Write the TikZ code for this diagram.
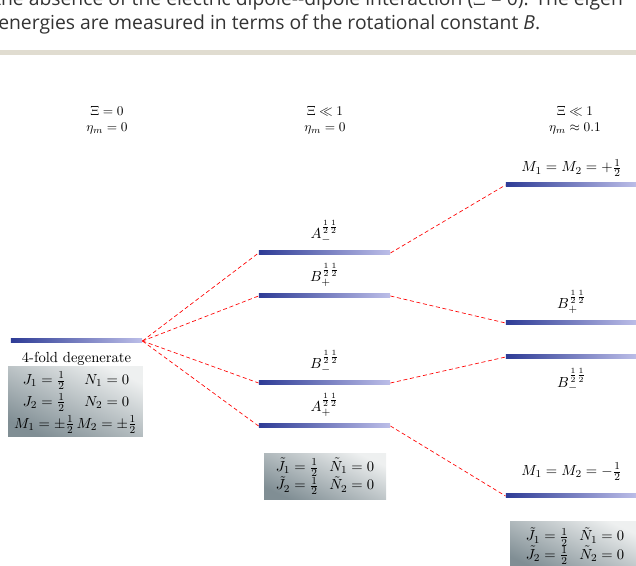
\documentclass[tikz,border=0pt,11pt]{standalone}
\usepackage{amssymb}
\usepackage{amsmath}
\usepackage{fontspec}
\newfontfamily\titelfont{Open Sans}
\usepackage{tikz}

\definecolor{balkendunkel}{RGB}{46,60,150}
\definecolor{balkenhell}{RGB}{188,190,232}
\definecolor{kastenhell}{RGB}{238,240,240}
\definecolor{kastendunkel}{RGB}{128,142,148}
\definecolor{leiste}{RGB}{224,220,208}
\definecolor{schrift}{RGB}{51,51,51}

\begin{document}
\begin{tikzpicture}[
        x=0.75pt, y=-0.75pt,
        niveau/.style={rectangle, inner sep=0pt, minimum width=98.5pt, minimum height=3pt,
                       left color=balkendunkel, right color=balkenhell},
        kasten/.style={rectangle, inner sep=0pt, top color=kastenhell,
                       bottom color=kastendunkel, shading angle=-25, align=center},
        kopf/.style={font=\small, align=center},
        titel/.style={anchor=base west, text=schrift, inner sep=0pt,
                      font=\titelfont\fontsize{14.5}{18}\selectfont},
        kante/.style={draw=red, densely dashed, line width=0.5pt}
    ]
        \clip (0,0) rectangle (636,566);

        % Ausschnitt der Bildunterschrift
        \node[titel] (t1) at (-6, 6) {the absence of the electric dipole--dipole interaction ($\Xi$ = 0). The eigen};
        \node[titel] (t2) at (-2,30) {energies are measured in terms of the rotational constant \textit{B}.};
        \fill[leiste] (0,50) rectangle (636,55);

        % Spaltenkoepfe
        \node[kopf] (kl) at (107,120) {$\Xi = 0$\\$\eta_m = 0$};
        \node[kopf] (km) at (325,120) {$\Xi \ll 1$\\$\eta_m = 0$};
        \node[kopf] (kr) at (575,120) {$\Xi \ll 1$\\$\eta_m \approx 0.1$};

        % Niveaus
        \node[niveau] (l0) at (76.5,341) {};
        \node[niveau] (mA) at (324.5,253) {};
        \node[niveau] (mB) at (324.5,296) {};
        \node[niveau] (mC) at (324.5,383) {};
        \node[niveau] (mD) at (324.5,426) {};
        \node[niveau] (rA) at (571.5,185) {};
        \node[niveau] (rB) at (571.5,323) {};
        \node[niveau] (rC) at (571.5,357) {};
        \node[niveau] (rD) at (571.5,496) {};

        % Beschriftungen
        \node[anchor=north] (l0t) at ([yshift=-3pt]l0.south) {4-fold degenerate};
        \node[anchor=south] (mAt) at ([yshift=1.5pt]mA.north) {$A_{-}^{\frac{1}{2}\frac{1}{2}}$};
        \node[anchor=south] (mBt) at ([yshift=1.5pt]mB.north) {$B_{+}^{\frac{1}{2}\frac{1}{2}}$};
        \node[anchor=south] (mCt) at ([yshift=1.5pt]mC.north) {$B_{-}^{\frac{1}{2}\frac{1}{2}}$};
        \node[anchor=south] (mDt) at ([yshift=1.5pt]mD.north) {$A_{+}^{\frac{1}{2}\frac{1}{2}}$};
        \node[anchor=south] (rAt) at ([yshift=0.5pt]rA.north) {$M_1 = M_2 = +\frac{1}{2}$};
        \node[anchor=south] (rBt) at ([yshift=1.5pt]rB.north) {$B_{+}^{\frac{1}{2}\frac{1}{2}}$};
        \node[anchor=north] (rCt) at ([yshift=-3pt]rC.south) {$B_{-}^{\frac{1}{2}\frac{1}{2}}$};
        \node[anchor=south] (rDt) at ([yshift=6pt]rD.north) {$M_1 = M_2 = -\frac{1}{2}$};

        % Quantenzahlen
        \node[kasten, minimum width=101pt, minimum height=52.5pt] (kl0) at (75.5,402)
            {\renewcommand{\arraystretch}{1.2}$\begin{array}{@{}c@{\,}c@{}}
              J_1 = \frac{1}{2} & N_1 = 0\\
              J_2 = \frac{1}{2} & N_2 = 0\\
              M_1 = \pm\frac{1}{2} & M_2 = \pm\frac{1}{2}
              \end{array}$};
        \node[kasten, minimum width=91.5pt, minimum height=35pt] (km0) at (325,476.5)
            {\renewcommand{\arraystretch}{0.85}$\begin{array}{@{}c@{\hspace{8pt}}c@{}}
              \tilde{J}_1 = \frac{1}{2} & \tilde{N}_1 = 0\\
              \tilde{J}_2 = \frac{1}{2} & \tilde{N}_2 = 0
              \end{array}$};
        \node[kasten, minimum width=97.5pt, minimum height=36pt] (kr0) at (575,546)
            {\renewcommand{\arraystretch}{0.85}$\begin{array}{@{}c@{\hspace{8pt}}c@{}}
              \tilde{J}_1 = \frac{1}{2} & \tilde{N}_1 = 0\\
              \tilde{J}_2 = \frac{1}{2} & \tilde{N}_2 = 0
              \end{array}$};

        % Aufspaltung
        \foreach \m in {mA,mB,mC,mD} \draw[kante] (l0.east) -- (\m.west);
        \foreach \m/\r in {mA/rA,mB/rB,mC/rC,mD/rD} \draw[kante] (\m.east) -- (\r.west);
    \end{tikzpicture}
\end{document}
